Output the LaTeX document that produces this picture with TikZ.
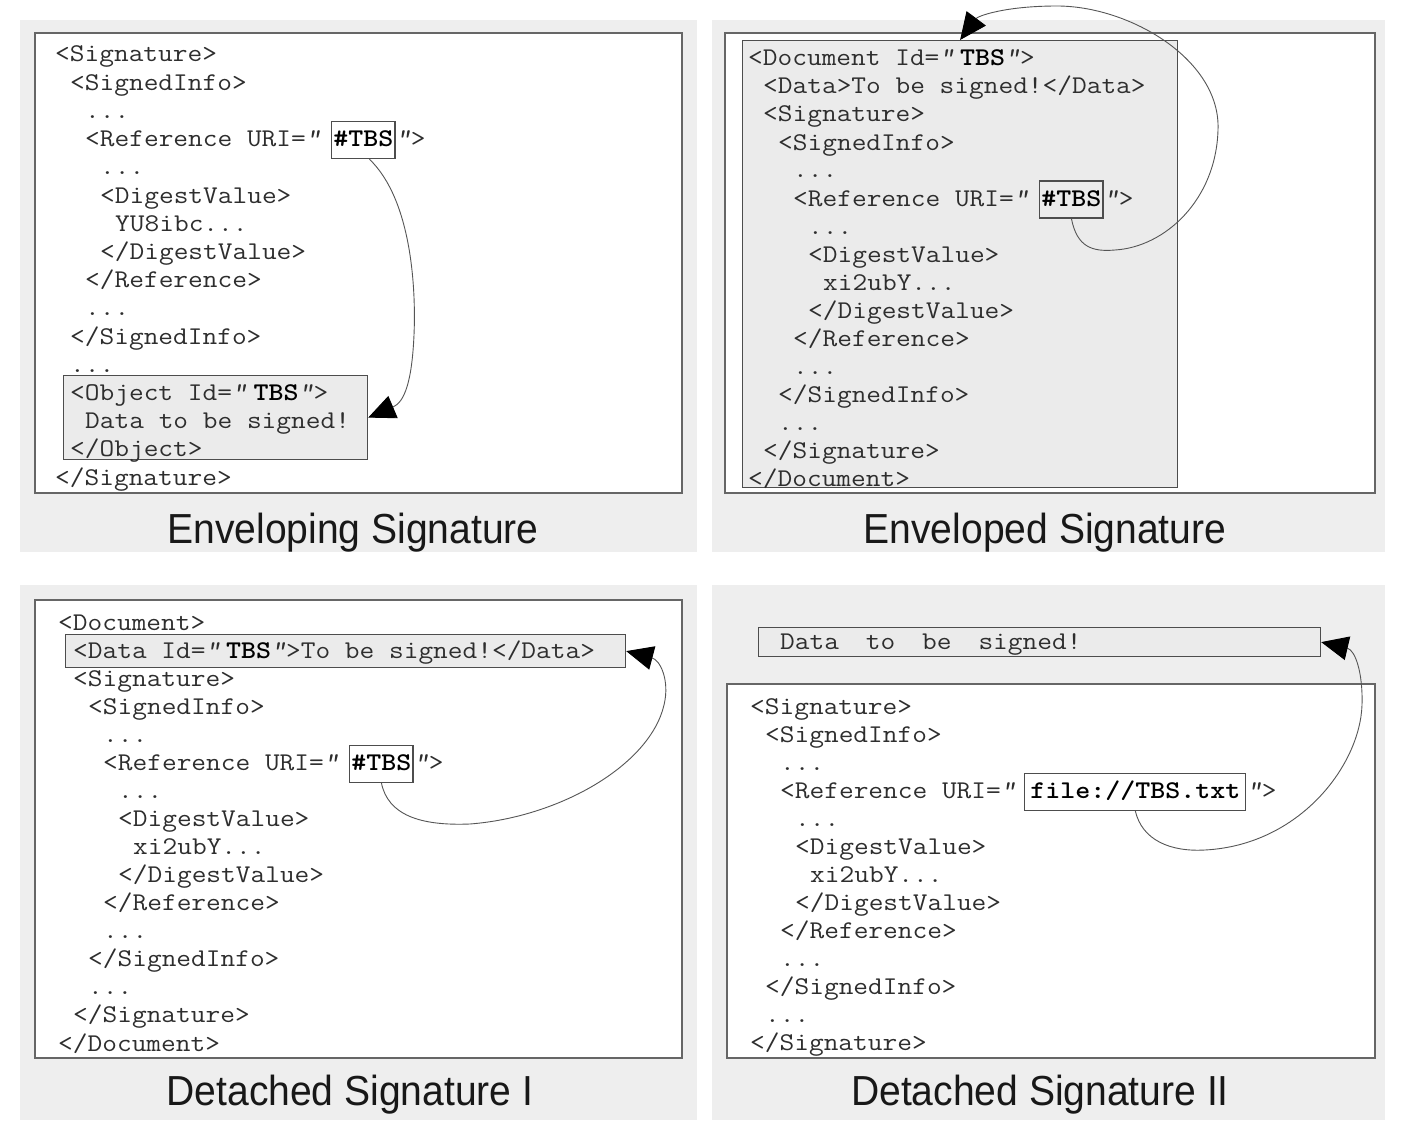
\documentclass[tikz,border=0pt]{standalone}
\usepackage{fontspec}
\usetikzlibrary{arrows.meta}
\newfontfamily\titlefont{Liberation Sans}
\definecolor{panelgray}{HTML}{EEEEEE}
\definecolor{blockgray}{HTML}{EBEBEB}
\definecolor{framegray}{HTML}{666666}
\definecolor{boxgray}{HTML}{4D4D4D}
\definecolor{codegray}{HTML}{2E2E2E}
\definecolor{titlegray}{HTML}{181818}
\definecolor{linkgray}{HTML}{555555}
\newcommand\codefont{\fontsize{25.5}{28}\selectfont\ttfamily}
\newcommand\xmldots{...}
\newcommand\xq{{\slshape"}}
\newcommand\idref[1]{{\bfseries\color{black}#1}}
\begin{document}
\begin{tikzpicture}[x=1pt,y=-1pt,
    panel/.style={fill=panelgray},
    sheet/.style={fill=white,draw=framegray,line width=1.5pt},
    block/.style={fill=blockgray,draw=boxgray,line width=1.2pt,anchor=north west,inner sep=0pt},
    code/.style={anchor=base west,inner sep=0pt,text=codegray,font=\codefont,xscale=1.12},
    uribox/.style={code,draw=boxgray,line width=1.2pt,inner xsep=1.5pt,text height=25pt,text depth=12pt,
        text=black,font=\codefont\bfseries},
    caption/.style={anchor=base,text=titlegray,font=\titlefont\fontsize{42}{46}\selectfont,xscale=0.93},
    link/.style={draw=linkgray,line width=0.9pt,-{Triangle[length=27pt,width=24pt,color=black]}}]
    \useasboundingbox (0,0) rectangle (1403,1137);
    \fill[white] (0,0) rectangle (1403,1137);

    % Enveloping Signature
    \fill[panel] (20,20) rectangle (697,552);
    \draw[sheet] (35,33) rectangle (682,493);
    \node[block,minimum width=304pt,minimum height=84pt] (obj1) at (63,375) {};
    \foreach \ind/\txt [count=\k from 0] in {0/{<Signature>},1/{<SignedInfo>},2/{\xmldots},
        2/{<Reference URI=\xq},3/{\xmldots},3/{<DigestValue>},4/{YU8ibc\xmldots},3/{</DigestValue>},
        2/{</Reference>},2/{\xmldots},1/{</SignedInfo>},1/{\xmldots},
        1/{<Object Id=\xq\hspace{6pt}\idref{TBS}\xq>},2/{Data to be signed!},1/{</Object>},0/{</Signature>}}
        \node[code] (sig1-\k) at (55+15*\ind,62+28.2*\k) {\txt};
    \node[uribox] (tbs1) at ([xshift=10pt]sig1-3.base east) {\#TBS};
    \node[code] (end1) at (tbs1.base east) {\xq>};
    \draw[link] ([xshift=6pt]tbs1.south) .. controls (412,200) and (416,290) .. (414,335)
        .. controls (412,380) and (405,402) .. (obj1.east);
    \node[caption] (title1) at (353,543) {Enveloping Signature};

    % Enveloped Signature
    \fill[panel] (712,20) rectangle (1385,552);
    \draw[sheet] (725,33) rectangle (1375,493);
    \node[block,minimum width=435pt,minimum height=447pt] (doc2) at (742,40) {};
    \foreach \ind/\txt [count=\k from 0] in {0/{<Document Id=\xq\hspace{5pt}\idref{TBS}\xq>},
        1/{<Data>To be signed!</Data>},1/{<Signature>},2/{<SignedInfo>},3/{\xmldots},
        3/{<Reference URI=\xq},4/{\xmldots},4/{<DigestValue>},5/{xi2ubY\xmldots},4/{</DigestValue>},
        3/{</Reference>},3/{\xmldots},2/{</SignedInfo>},2/{\xmldots},1/{</Signature>},0/{</Document>}}
        \node[code] (sig2-\k) at (748+15*\ind,66+28*\k) {\txt};
    \node[uribox] (tbs2) at ([xshift=10pt]sig2-5.base east) {\#TBS};
    \node[code] (end2) at (tbs2.base east) {\xq>};
    \draw[link] (tbs2.south) .. controls (1077,247) and (1092,252) .. (1115,250)
        .. controls (1165,247) and (1216,200) .. (1218,130)
        .. controls (1221,60) and (1130,6) .. (1057,6)
        .. controls (1005,6) and (978,16) .. (doc2.north);
    \node[caption] (title2) at (1045,543) {Enveloped Signature};

    % Detached Signature I
    \fill[panel] (20,585) rectangle (697,1120);
    \draw[sheet] (35,600) rectangle (682,1058);
    \node[block,minimum width=560pt,minimum height=33pt] (data3) at (65,634) {};
    \foreach \ind/\txt [count=\k from 0] in {0/{<Document>},
        1/{<Data Id=\xq\hspace{5pt}\idref{TBS}\xq>To be signed!</Data>},1/{<Signature>},2/{<SignedInfo>},
        3/{\xmldots},3/{<Reference URI=\xq},4/{\xmldots},4/{<DigestValue>},5/{xi2ubY\xmldots},
        4/{</DigestValue>},3/{</Reference>},3/{\xmldots},2/{</SignedInfo>},2/{\xmldots},
        1/{</Signature>},0/{</Document>}}
        \node[code] (sig3-\k) at (58+15*\ind,630+28.07*\k) {\txt};
    \node[uribox] (tbs3) at ([xshift=10pt]sig3-5.base east) {\#TBS};
    \node[code] (end3) at (tbs3.base east) {\xq>};
    \draw[link] (tbs3.south) .. controls (388,815) and (420,826) .. (470,824)
        .. controls (560,817) and (650,765) .. (664,705)
        .. controls (670,680) and (660,660) .. (data3.east);
    \node[caption] (title3) at (350,1105) {Detached Signature I};

    % Detached Signature II
    \fill[panel] (712,585) rectangle (1385,1120);
    \node[block,minimum width=562pt,minimum height=29pt] (data4) at (758,627) {};
    \node[code] (msg4) at (780,649) {Data\hspace{24pt}to\hspace{24pt}be\hspace{24pt}signed!};
    \draw[sheet] (727,684) rectangle (1375,1058);
    \foreach \ind/\txt [count=\k from 0] in {0/{<Signature>},1/{<SignedInfo>},2/{\xmldots},
        2/{<Reference URI=\xq},3/{\xmldots},3/{<DigestValue>},4/{xi2ubY\xmldots},3/{</DigestValue>},
        2/{</Reference>},2/{\xmldots},1/{</SignedInfo>},1/{\xmldots},0/{</Signature>}}
        \node[code] (sig4-\k) at (750+15*\ind,714+28.08*\k) {\txt};
    \node[uribox,inner xsep=5pt] (file4) at ([xshift=8pt]sig4-3.base east) {file://TBS.txt};
    \node[code] (end4) at (file4.base east) {\xq>};
    \draw[link] (file4.south) .. controls (1142,840) and (1170,852) .. (1205,850)
        .. controls (1300,845) and (1360,765) .. (1362,705)
        .. controls (1363,672) and (1355,650) .. (data4.east);
    \node[caption] (title4) at (1040,1105) {Detached Signature II};
\end{tikzpicture}
\end{document}
